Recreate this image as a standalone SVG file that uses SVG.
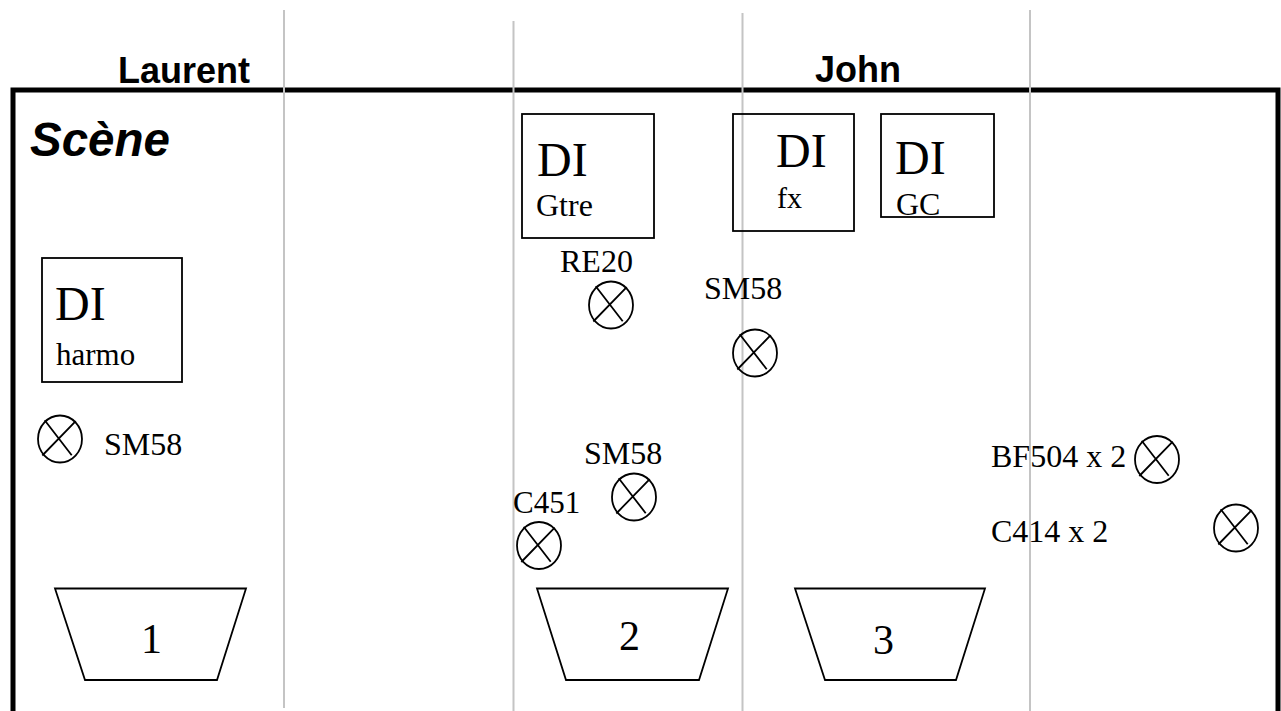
<svg xmlns="http://www.w3.org/2000/svg" width="1281" height="711" viewBox="0 0 1281 711">
<style>
.s{fill:none;stroke:#000;stroke-width:1.8}
.g{stroke:#c4c4c4;stroke-width:2;fill:none}
.t{font-family:"Liberation Serif",serif;fill:#000}
.b{font-family:"Liberation Sans",sans-serif;font-weight:bold;fill:#000}
.big{font-size:48px}.med{font-size:32px}.mic{font-size:32px}.num{font-size:42px}
</style>
<defs>
<g id="mic"><ellipse rx="22" ry="23.500" class="s"/><path class="s" d="M-15.300-18.800L11.700 16.200M15.700-17.800L-17.700 16.500"/></g>
</defs>
<rect width="1281" height="711" fill="#fff"/>
<path d="M13 711V90H1278V711" fill="none" stroke="#000" stroke-width="5"/>
<g id="connectors">
<path class="g" d="M284 10V708M513.500 21V711M742.500 13V711M1030 10V711"/>
</g>
<text class="b" x="118" y="83" font-size="36">Laurent</text>
<text class="b" x="815" y="82" font-size="36">John</text>
<text class="b" x="30" y="156" font-size="47.500" font-style="italic">Scène</text>
<g id="di-gtre"><rect class="s" x="522" y="114" width="132" height="124"/><text class="t big" x="537" y="176">DI</text><text class="t med" x="536" y="216">Gtre</text></g>
<g id="di-fx"><rect class="s" x="733" y="114" width="121" height="117"/><text class="t big" x="776" y="167">DI</text><text class="t" font-size="30" x="777" y="208">fx</text></g>
<g id="di-gc"><rect class="s" x="881" y="114" width="113" height="103"/><text class="t big" x="895" y="174">DI</text><text class="t med" x="896" y="215">GC</text></g>
<g id="di-harmo"><rect class="s" x="42" y="258" width="140" height="124"/><text class="t big" x="55" y="320">DI</text><text class="t" font-size="31" x="56" y="365">harmo</text></g>
<g id="mic-re20"><use href="#mic" x="611" y="305"/><text class="t mic" x="560" y="272">RE20</text></g>
<g id="mic-sm58-a"><use href="#mic" x="755" y="353"/><text class="t mic" x="704" y="299">SM58</text></g>
<g id="mic-sm58-b"><use href="#mic" x="60" y="439"/><text class="t mic" x="104" y="455">SM58</text></g>
<g id="mic-sm58-c"><use href="#mic" x="634" y="497"/><text class="t mic" x="584" y="464">SM58</text></g>
<g id="mic-c451"><use href="#mic" x="539" y="545.500"/><text class="t" font-size="31" x="513" y="513">C451</text></g>
<g id="mic-bf504"><use href="#mic" x="1157" y="459.500"/><text class="t mic" x="991" y="467">BF504 x 2</text></g>
<g id="mic-c414"><use href="#mic" x="1236" y="528"/><text class="t mic" x="991" y="542">C414 x 2</text></g>
<g id="wedge-1"><path class="s" d="M55 588.500H246L217 680H85Z"/><text class="t num" x="141" y="653">1</text></g>
<g id="wedge-2"><path class="s" d="M537 588.500H728L699 680H566Z"/><text class="t num" x="619" y="650">2</text></g>
<g id="wedge-3"><path class="s" d="M795 588.500H985L956 680H825Z"/><text class="t num" x="873" y="654">3</text></g>
</svg>
